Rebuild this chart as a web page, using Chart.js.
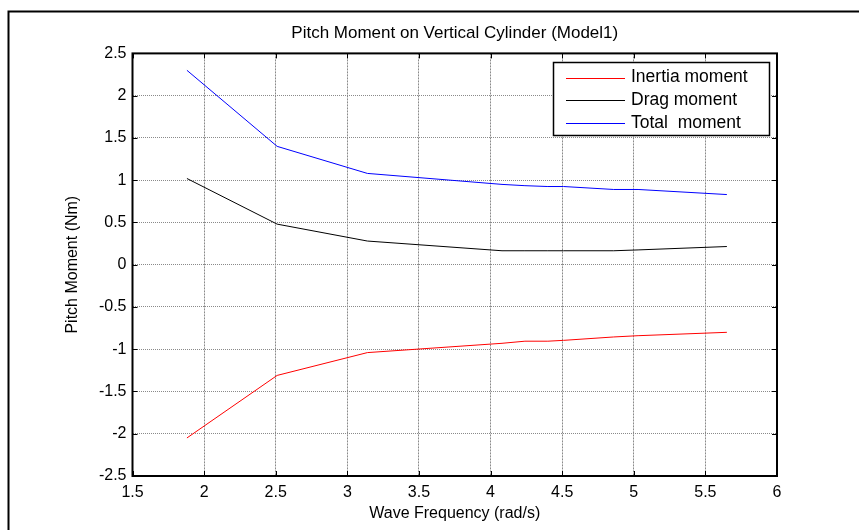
<!DOCTYPE html>
<html>
<head>
<meta charset="utf-8">
<script src="https://cdn.jsdelivr.net/npm/chart.js@4"></script>
<style>
  html, body { margin: 0; padding: 0; background: #fff; }
</style>
</head>
<body>
<canvas id="chart" width="859" height="530"></canvas>
<script>
// wave frequency (rad/s) at the line vertices
const freq = [1.88, 2.51, 3.14, 4.08, 4.24, 4.4, 4.51, 4.86, 5.03, 5.65];
const inertiaMoment = [-2.05, -1.31, -1.04, -0.93, -0.905, -0.905, -0.895, -0.855, -0.84, -0.80];
const dragMoment = [1.02, 0.48, 0.28, 0.165, 0.165, 0.165, 0.165, 0.165, 0.175, 0.215];
const totalMoment = [2.30, 1.40, 1.08, 0.95, 0.935, 0.925, 0.925, 0.89, 0.89, 0.83];

const xTicks = [1.5, 2, 2.5, 3, 3.5, 4, 4.5, 5, 5.5, 6];
const yTicks = [-2.5, -2, -1.5, -1, -0.5, 0, 0.5, 1, 1.5, 2, 2.5];

const FONT = '"Liberation Sans", Arial, sans-serif';

const toPoints = ys => freq.map((x, i) => ({ x: x, y: ys[i] }));

// figure frame, axes box, inner ticks and boxed legend (MATLAB look)
const matlabLook = {
  id: 'matlabLook',
  beforeDraw(chart) {
    const ctx = chart.ctx;
    ctx.save();
    ctx.strokeStyle = '#000';
    ctx.lineWidth = 2;
    ctx.beginPath();
    ctx.moveTo(8.5, 530);
    ctx.lineTo(8.5, 11.5);
    ctx.lineTo(859, 11.5);
    ctx.stroke();
    ctx.restore();
  },
  afterDatasetsDraw(chart) {
    const ctx = chart.ctx;
    const a = chart.chartArea;
    const xs = chart.scales.x, ys = chart.scales.y;
    ctx.save();
    ctx.strokeStyle = '#000';
    ctx.lineWidth = 1;
    ctx.beginPath();
    xTicks.forEach(v => {
      const px = Math.round(xs.getPixelForValue(v)) + 0.5;
      ctx.moveTo(px, a.bottom); ctx.lineTo(px, a.bottom - 5);
      ctx.moveTo(px, a.top); ctx.lineTo(px, a.top + 5);
    });
    yTicks.forEach(v => {
      const py = Math.round(ys.getPixelForValue(v)) + 0.5;
      ctx.moveTo(a.left, py); ctx.lineTo(a.left + 5, py);
      ctx.moveTo(a.right, py); ctx.lineTo(a.right - 5, py);
    });
    ctx.stroke();

    ctx.lineWidth = 2;
    ctx.strokeRect(a.left, a.top, a.right - a.left, a.bottom - a.top);

    // legend
    const box = { x: 553.5, y: 62.5, w: 216, h: 73 };
    ctx.fillStyle = '#fff';
    ctx.fillRect(box.x, box.y, box.w, box.h);
    ctx.lineWidth = 1.5;
    ctx.strokeRect(box.x, box.y, box.w, box.h);
    ctx.font = '17.5px ' + FONT;
    ctx.textBaseline = 'middle';
    ctx.textAlign = 'left';
    chart.data.datasets.forEach((ds, i) => {
      const cy = 77.5 + i * 22.8;
      ctx.strokeStyle = ds.borderColor;
      ctx.lineWidth = 1;
      ctx.beginPath();
      ctx.moveTo(566, Math.round(cy) + 0.5);
      ctx.lineTo(625, Math.round(cy) + 0.5);
      ctx.stroke();
      ctx.fillStyle = '#000';
      ctx.fillText(ds.label, 631, cy);
    });
    ctx.restore();
  }
};

new Chart(document.getElementById('chart'), {
  type: 'line',
  data: {
    datasets: [
      { label: 'Inertia moment', data: toPoints(inertiaMoment), borderColor: '#ff0000' },
      { label: 'Drag moment', data: toPoints(dragMoment), borderColor: '#000000' },
      { label: 'Total  moment', data: toPoints(totalMoment), borderColor: '#0000ff' }
    ]
  },
  options: {
    responsive: false,
    animation: false,
    events: [],
    layout: { padding: { left: 60, right: 82, top: 0, bottom: 0 } },
    elements: {
      line: { borderWidth: 1, tension: 0 },
      point: { radius: 0 }
    },
    plugins: {
      legend: { display: false },
      tooltip: { enabled: false },
      title: {
        display: true,
        fullSize: false,
        text: 'Pitch Moment on Vertical Cylinder (Model1)',
        color: '#000',
        font: { family: FONT, size: 17, weight: 'normal' },
        padding: { top: 23, bottom: 10 }
      }
    },
    scales: {
      x: {
        type: 'linear',
        min: 1.5,
        max: 6,
        afterBuildTicks: s => { s.ticks = xTicks.map(v => ({ value: v })); },
        afterFit: s => { s.height = 54; },
        ticks: {
          color: '#000',
          padding: 7,
          maxRotation: 0,
          callback: v => String(v),
          font: { family: FONT, size: 16 }
        },
        grid: { color: '#8a8a8a', drawTicks: false },
        border: { display: false, dash: [2, 1] },
        title: {
          display: true,
          text: 'Wave Frequency (rad/s)',
          color: '#000',
          font: { family: FONT, size: 16 },
          padding: { top: 0, bottom: 7 }
        }
      },
      y: {
        min: -2.5,
        max: 2.5,
        afterBuildTicks: s => { s.ticks = yTicks.map(v => ({ value: v })); },
        afterFit: s => { s.width = 72.5; },
        ticks: {
          color: '#000',
          padding: 6,
          callback: v => String(v),
          font: { family: FONT, size: 16 }
        },
        grid: { color: '#8a8a8a', drawTicks: false },
        border: { display: false, dash: [1, 1] },
        title: {
          display: true,
          text: 'Pitch Moment (Nm)',
          color: '#000',
          font: { family: FONT, size: 16 },
          padding: { top: 3, bottom: 0 }
        }
      }
    }
  },
  plugins: [matlabLook]
});
</script>
</body>
</html>
